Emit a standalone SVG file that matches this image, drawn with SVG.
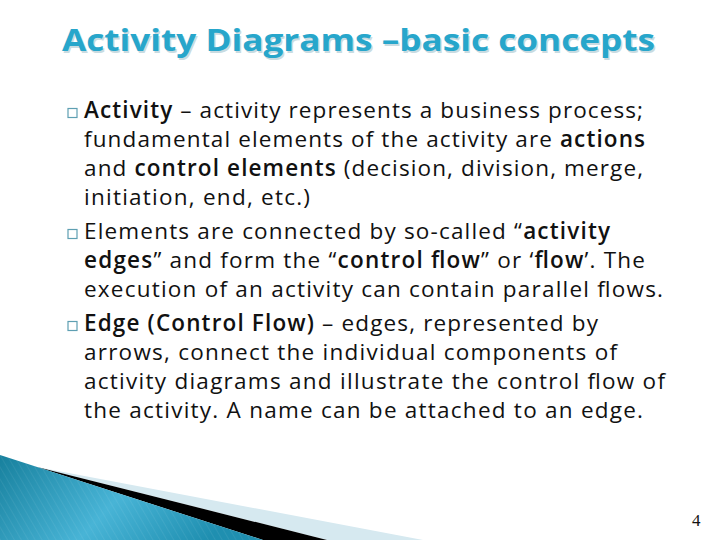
<svg xmlns="http://www.w3.org/2000/svg" width="720" height="540" viewBox="0 0 720 540">
<style>
.t{font-family:"Open Sans","Liberation Sans",sans-serif;font-size:30px;font-weight:bold}
.b{font-family:"Open Sans","Liberation Sans",sans-serif;font-size:22.5px;fill:#111}
.k{font-weight:600}
.sq{fill:none;stroke:#5e9fb2;stroke-width:1.2}
.pn{font-family:"Liberation Serif",serif;font-size:17px;fill:#111}
</style>
<defs>
<linearGradient id="bg" x1="0" y1="0" x2="1" y2="0.3">
<stop offset="0" stop-color="#17809d"/>
<stop offset="0.55" stop-color="#48b4d6"/>
<stop offset="1" stop-color="#1f8fb0"/>
</linearGradient>
<pattern id="st" width="6" height="6" patternUnits="userSpaceOnUse" patternTransform="rotate(-30)">
<line x1="0" y1="0" x2="0" y2="6" stroke="#ffffff" stroke-opacity="0.12" stroke-width="1"/>
</pattern>
</defs>
<rect width="720" height="540" fill="#ffffff"/>
<g id="decor">
<polygon points="37,467 423,540 327,540" fill="#d6e9f0"/>
<polygon points="37,467 327,540 263,540" fill="#000000"/>
<polygon points="0,455 263,540 0,540" fill="url(#bg)"/>
<polygon points="0,455 263,540 0,540" fill="url(#st)"/>
</g>
<g id="title">
<text class="t" x="63.5" y="52.5" fill="#c9dbe1" textLength="593" lengthAdjust="spacingAndGlyphs">Activity Diagrams –basic concepts</text>
<text class="t" x="62" y="51" fill="#27a6cb" textLength="593" lengthAdjust="spacingAndGlyphs">Activity Diagrams –basic concepts</text>
</g>
<g id="bullets">
<rect class="sq" x="68" y="108.5" width="9" height="9"/>
<rect class="sq" x="68" y="229.5" width="9" height="9"/>
<rect class="sq" x="68" y="321.5" width="9" height="9"/>
</g>
<g id="body">
<text class="b" x="84" y="118" textLength="559" lengthAdjust="spacing"><tspan class="k">Activity</tspan> – activity represents a business process;</text>
<text class="b" x="84" y="147" textLength="561" lengthAdjust="spacing">fundamental elements of the activity are <tspan class="k">actions</tspan></text>
<text class="b" x="84" y="176" textLength="559" lengthAdjust="spacing">and <tspan class="k">control elements</tspan> (decision, division, merge,</text>
<text class="b" x="84" y="205" textLength="226" lengthAdjust="spacing">initiation, end, etc.)</text>
<text class="b" x="84" y="239" textLength="526" lengthAdjust="spacing">Elements are connected by so-called “<tspan class="k">activity</tspan></text>
<text class="b" x="84" y="268" textLength="561" lengthAdjust="spacing"><tspan class="k">edges</tspan>” and form the “<tspan class="k">control flow</tspan>” or ‘<tspan class="k">flow</tspan>’. The</text>
<text class="b" x="84" y="297" textLength="579" lengthAdjust="spacing">execution of an activity can contain parallel flows.</text>
<text class="b" x="84" y="331" textLength="514" lengthAdjust="spacing"><tspan class="k">Edge (Control Flow)</tspan> – edges, represented by</text>
<text class="b" x="84" y="360" textLength="533" lengthAdjust="spacing">arrows, connect the individual components of</text>
<text class="b" x="84" y="389" textLength="581" lengthAdjust="spacing">activity diagrams and illustrate the control flow of</text>
<text class="b" x="84" y="418" textLength="559" lengthAdjust="spacing">the activity. A name can be attached to an edge.</text>
</g>
<text class="pn" x="692" y="526">4</text>
</svg>
